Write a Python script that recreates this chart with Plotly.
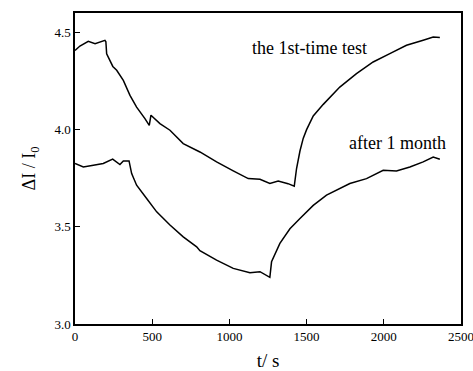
import plotly.graph_objects as go

# first-time test
t1 = [0, 32, 86, 130, 194, 200, 205, 225, 237, 245, 270, 313, 356, 399, 453, 481, 492, 550, 615, 701,
      809, 917, 1025, 1122, 1198, 1262, 1316, 1380, 1420, 1435, 1457, 1478, 1500, 1543, 1608,
      1640, 1715, 1823, 1931, 2039, 2147, 2255, 2320, 2363]
v1 = [4.407, 4.43, 4.454, 4.442, 4.459, 4.452, 4.39, 4.36, 4.34, 4.325, 4.305, 4.253, 4.176, 4.116,
      4.057, 4.022, 4.074, 4.031, 3.997, 3.928, 3.885, 3.834, 3.788, 3.748, 3.745, 3.723, 3.736,
      3.722, 3.709, 3.80, 3.89, 3.955, 4.0, 4.07, 4.13, 4.155, 4.219, 4.288, 4.348,
      4.391, 4.434, 4.46, 4.476, 4.474]

# after 1 month
t2 = [0, 54, 119, 183, 244, 291, 313, 350, 367, 399, 464, 529, 615, 701, 788, 809, 917, 1025, 1133,
      1198, 1262, 1273, 1327, 1392, 1457, 1543, 1629, 1780, 1888, 1996, 2082, 2169, 2255, 2320, 2363]
v2 = [3.826, 3.808, 3.817, 3.826, 3.848, 3.82, 3.839, 3.839, 3.774, 3.714, 3.646, 3.577, 3.509,
      3.448, 3.397, 3.377, 3.329, 3.286, 3.264, 3.269, 3.24, 3.32, 3.415, 3.49, 3.543, 3.61, 3.663,
      3.723, 3.748, 3.791, 3.787, 3.808, 3.834, 3.859, 3.848]

labels = ["the 1st-time test", "after 1 month"]
x_ticks = [0, 500, 1000, 1500, 2000, 2500]
y_ticks = [3.0, 3.5, 4.0, 4.5]

font = "Liberation Serif"

fig = go.Figure()
fig.add_trace(go.Scatter(x=t1, y=v1, mode="lines", line=dict(color="black", width=1.5), showlegend=False))
fig.add_trace(go.Scatter(x=t2, y=v2, mode="lines", line=dict(color="black", width=1.5), showlegend=False))

fig.add_annotation(x=1520, y=4.42, text=labels[0], showarrow=False, xref="x", yref="y",
                   font=dict(family=font, size=18, color="black"))
fig.add_annotation(x=2090, y=3.93, text=labels[1], showarrow=False, xref="x", yref="y",
                   font=dict(family=font, size=18, color="black"))
# last x tick label, which overflows the right edge in the reference
fig.add_annotation(x=x_ticks[-1], y=0, xref="x", yref="paper", yanchor="top", yshift=-3,
                   text=str(x_ticks[-1]), showarrow=False,
                   font=dict(family=font, size=13, color="black"))

axis_common = dict(showgrid=False, zeroline=False, showline=True, linecolor="black", linewidth=1.5,
                   mirror=True, ticks="inside", ticklen=5, tickwidth=1, tickcolor="black",
                   automargin=False,
                   tickfont=dict(family=font, size=13, color="black"))

fig.update_xaxes(range=[0, 2500], tickvals=x_ticks[:-1], ticktext=[str(v) for v in x_ticks[:-1]],
                 title=dict(text="t/ s", font=dict(family=font, size=19, color="black"), standoff=12),
                 **axis_common)
fig.update_yaxes(range=[3.0, 4.6], tickvals=y_ticks, ticktext=[f"{v:.1f}" for v in y_ticks],
                 title=dict(text="ΔI / I<sub>0</sub>", font=dict(family=font, size=18, color="black"), standoff=14),
                 **axis_common)

fig.update_layout(width=473, height=371, margin=dict(l=75, r=12, t=13, b=47),
                  paper_bgcolor="white", plot_bgcolor="white")

fig.write_html("out.html")
